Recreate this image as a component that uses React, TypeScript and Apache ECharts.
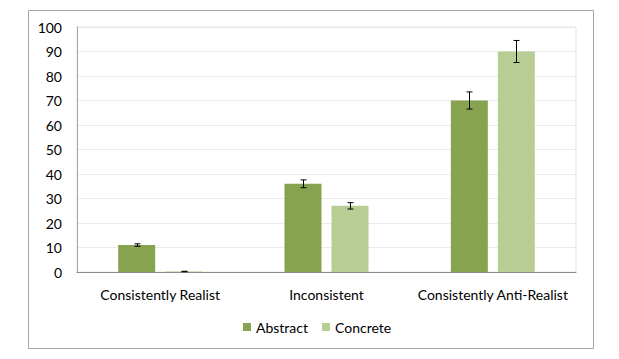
import React, { useEffect, useRef } from "react";
import * as echarts from "echarts";

const categories = ["Consistently Realist", "Inconsistent", "Consistently Anti-Realist"];
const abstractValues = [11, 36, 70];
const abstractErrors = [0.5, 1.6, 3.5];
const concreteValues = [0.2, 27, 90];
const concreteErrors = [0.1, 1.3, 4.5];
const seriesNames = ["Abstract", "Concrete"];

const BAR_W = 37;
const GAP = 10;
const FONT = "Lato";

export default function App() {
  const ref = useRef<HTMLDivElement>(null);
  useEffect(() => {
    if (!ref.current) return;
    const chart = echarts.init(ref.current, null, { renderer: "svg" });
    const errSeries = (vals: number[], errs: number[], side: number) => ({
      type: "custom",
      silent: true,
      z: 10,
      data: vals.map((v, i) => [i, v - errs[i], v + errs[i]]),
      renderItem: (params: any, api: any) => {
        const i = api.value(0);
        const lo = api.coord([i, api.value(1)]);
        const hi = api.coord([i, api.value(2)]);
        const x = Math.round(lo[0] + side * (BAR_W + GAP) / 2) + 0.5;
        const cap = 3;
        const style = { stroke: "#000", lineWidth: 1 };
        return {
          type: "group",
          children: [
            { type: "line", shape: { x1: x, y1: lo[1], x2: x, y2: hi[1] }, style },
            { type: "line", shape: { x1: x - cap, y1: lo[1], x2: x + cap, y2: lo[1] }, style },
            { type: "line", shape: { x1: x - cap, y1: hi[1], x2: x + cap, y2: hi[1] }, style },
          ],
        };
      },
    });
    chart.setOption({
      animation: false,
      textStyle: { fontFamily: FONT },
      graphic: [
        {
          type: "rect",
          shape: { x: 28.5, y: 10.5, width: 565, height: 338 },
          style: { fill: "none", stroke: "#a6a6a6", lineWidth: 1 },
          silent: true,
        },
      ],
      grid: { left: 77, top: 27, right: 43, bottom: 87, show: true, borderColor: "#e6e6e6", borderWidth: 1 },
      legend: {
        data: seriesNames,
        left: 238,
        top: 315,
        itemWidth: 8,
        itemHeight: 8,
        itemGap: 14,
        icon: "rect",
        textStyle: { fontFamily: FONT, fontSize: 14, color: "#000" },
      },
      xAxis: {
        type: "category",
        data: categories,
        axisLine: { lineStyle: { color: "#8c8c8c", width: 1 } },
        axisTick: { show: false },
        axisLabel: { color: "#000", fontSize: 14, fontFamily: FONT, margin: 15, interval: 0 },
      },
      yAxis: {
        type: "value",
        min: 0,
        max: 100,
        interval: 10,
        axisLine: { show: true, lineStyle: { color: "#a6a6a6" } },
        axisTick: { show: false },
        splitLine: { lineStyle: { color: "#ebebeb" } },
        axisLabel: { color: "#000", fontSize: 14, fontFamily: FONT, margin: 15 },
      },
      series: [
        {
          name: seriesNames[0],
          type: "bar",
          data: abstractValues,
          barWidth: BAR_W,
          barGap: (GAP / BAR_W * 100).toFixed(1) + "%",
          itemStyle: { color: "#87a34f" },
        },
        {
          name: seriesNames[1],
          type: "bar",
          data: concreteValues,
          barWidth: BAR_W,
          itemStyle: { color: "#b7cd94" },
        },
        errSeries(abstractValues, abstractErrors, -1),
        errSeries(concreteValues, concreteErrors, 1),
      ],
    });
    return () => chart.dispose();
  }, []);
  return (
    <div
      ref={ref}
      style={{ position: "fixed", left: 0, top: 0, width: 619, height: 359, background: "#fff" }}
    />
  );
}
